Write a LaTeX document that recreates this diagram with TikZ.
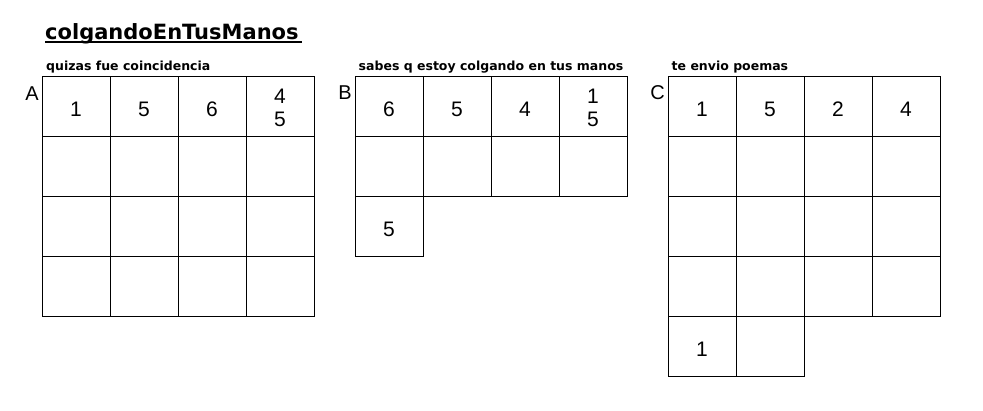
\documentclass[tikz,border=0pt]{standalone}
\usepackage{fontspec}
\setmainfont{Liberation Sans}
\newfontfamily\dejavu{DejaVu Sans}
\begin{document}
\begin{tikzpicture}[x=1pt,y=-1pt,
  cellbox/.style={draw=black,line width=1pt,minimum width=68pt,minimum height=60pt,inner sep=0pt,
    font=\fontsize{21pt}{23pt}\selectfont,text height=20pt,text depth=0pt,align=center},
  twoline/.style={text height=40pt},
  gridlabel/.style={font=\fontsize{20pt}{24pt}\selectfont,anchor=base east,inner sep=0pt},
  subtitle/.style={font=\dejavu\bfseries\fontsize{12.5pt}{15pt}\selectfont,anchor=base west,inner sep=0pt},
  titletext/.style={font=\dejavu\bfseries\fontsize{21pt}{24pt}\selectfont,anchor=base west,inner sep=0pt}]
\useasboundingbox (0,0) rectangle (983,411);
\fill[white] (0,0) rectangle (983,411);
% title
\node[titletext] (title) at (45,39.5) {colgandoEnTusManos};
\coordinate (ulA) at (45,42.5);
\coordinate (ulB) at (302,42.5);
\draw[line width=2pt] (ulA) -- (ulB);
% subtitles
\node[subtitle] (subA) at (46,71) {quizas fue coincidencia};
\node[subtitle] (subB) at (358.5,71) {sabes q estoy colgando en tus manos};
\node[subtitle] (subC) at (671.5,71) {te envio poemas};
% grid labels
\node[gridlabel] (labA) at (39,101) {A};
\node[gridlabel] (labB) at (352,100) {B};
\node[gridlabel] (labC) at (665,100) {C};
% grid A
\node[cellbox] (A11) at (76,107) {1};
\node[cellbox] (A12) at (144,107) {5};
\node[cellbox] (A13) at (212,107) {6};
\node[cellbox,twoline] (A14) at (280,107) {4\\5};
\foreach \r/\y in {2/167,3/227,4/287}{
  \foreach \c/\x in {1/76,2/144,3/212,4/280}{
    \node[cellbox] (A\r\c) at (\x,\y) {};
  }
}
% grid B
\node[cellbox] (B11) at (389,107) {6};
\node[cellbox] (B12) at (457,107) {5};
\node[cellbox] (B13) at (525,107) {4};
\node[cellbox,twoline] (B14) at (593,107) {1\\5};
\foreach \c/\x in {1/389,2/457,3/525,4/593}{
  \node[cellbox] (B2\c) at (\x,167) {};
}
\node[cellbox] (B31) at (389,227) {5};
% grid C
\node[cellbox] (C11) at (702,107) {1};
\node[cellbox] (C12) at (770,107) {5};
\node[cellbox] (C13) at (838,107) {2};
\node[cellbox] (C14) at (906,107) {4};
\foreach \r/\y in {2/167,3/227,4/287}{
  \foreach \c/\x in {1/702,2/770,3/838,4/906}{
    \node[cellbox] (C\r\c) at (\x,\y) {};
  }
}
\node[cellbox] (C51) at (702,347) {1};
\node[cellbox] (C52) at (770,347) {};
\end{tikzpicture}
\end{document}
